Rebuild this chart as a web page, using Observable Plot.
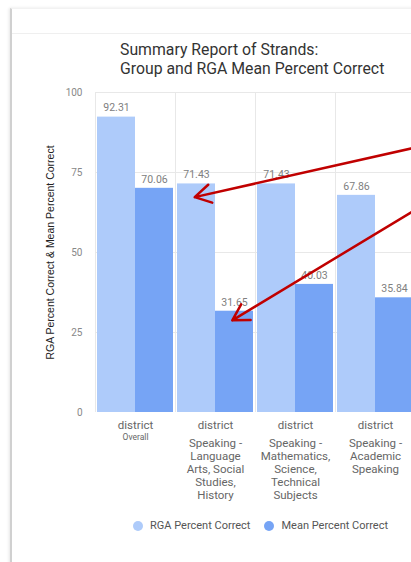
<!DOCTYPE html>
<html>
<head>
<meta charset="utf-8">
<script src="https://cdn.jsdelivr.net/npm/d3@7"></script>
<script src="https://cdn.jsdelivr.net/npm/@observablehq/plot@0.6"></script>
<style>
html, body { margin: 0; padding: 0; width: 411px; height: 562px; overflow: hidden; background: #fff; font-family: Roboto, "Noto Sans", sans-serif; }
#card { position: absolute; left: 10px; top: 8px; width: 430px; height: 600px; border-left: 2px solid #d0d0d0; border-top: 1px solid #f2f2f2; box-shadow: -1px 0 3px rgba(0,0,0,0.10); }
#sep { position: absolute; left: 12px; top: 33px; width: 400px; height: 1px; background: #efefef; }
#title { position: absolute; left: 120px; top: 40px; font-size: 15.8px; line-height: 19px; color: #333; white-space: nowrap; }
#chart { position: absolute; left: 0; top: 80px; width: 435px; }
#legend { position: absolute; left: 133px; top: 519px; display: flex; align-items: center; font-size: 11px; color: #555; white-space: nowrap; }
.item { display: flex; align-items: center; margin-right: 14px; }
.dot { width: 10px; height: 10px; border-radius: 50%; margin-right: 7px; }
</style>
</head>
<body>
<div id="card"></div>
<div id="sep"></div>
<div id="title">Summary Report of Strands:<br>Group and RGA Mean Percent Correct</div>
<div id="chart"></div>
<div id="legend"></div>
<script>
const categories = ["Overall", "Speaking - Language Arts, Social Studies, History", "Speaking - Mathematics, Science, Technical Subjects", "Speaking - Academic Speaking"];
const groupLabels = ["district", "district", "district", "district"];
const subLabels = ["Overall", "Speaking -\nLanguage\nArts, Social\nStudies,\nHistory", "Speaking -\nMathematics,\nScience,\nTechnical\nSubjects", "Speaking -\nAcademic\nSpeaking"];
const series = ["RGA Percent Correct", "Mean Percent Correct"];
const rgaValues = [92.31, 71.43, 71.43, 67.86];
const meanValues = [70.06, 31.65, 40.03, 35.84];
const yTicks = [0, 25, 50, 75, 100];
const colors = ["#aecbfa", "#76a4f5"];
const yLabel = "RGA Percent Correct & Mean Percent Correct";
// annotation arrows (data coordinates: group index position, percent)
const arrowFromX = [4.3, 4.3];
const arrowFromY = [84.5, 67.9];
const arrowToX = [1.24, 1.71];
const arrowToY = [67.3, 28.8];

const inset = 0.025, bw = 0.475;
const rows = [];
categories.forEach((c, i) => {
  [rgaValues, meanValues].forEach((vals, s) => {
    rows.push({i, s, series: series[s], value: vals[i]});
  });
});
const arrows = arrowFromX.map((x, k) => ({x1: x, y1: arrowFromY[k], x2: arrowToX[k], y2: arrowToY[k]}));
const groupIdx = categories.map((c, i) => i);

const chart = Plot.plot({
  width: 435,
  height: 422,
  marginLeft: 95,
  marginRight: 20,
  marginTop: 12,
  marginBottom: 90,
  style: {fontFamily: "Roboto, 'Noto Sans', sans-serif", maxWidth: "none", background: "transparent"},
  x: {domain: [0, categories.length], axis: null},
  y: {domain: [0, 100], axis: null},
  color: {domain: series, range: colors},
  marks: [
    Plot.ruleY([25, 50, 75, 100], {stroke: "#e8e8e8", strokeWidth: 1}),
    Plot.ruleX([...groupIdx, categories.length], {y1: 0, y2: 100, stroke: "#e8e8e8", strokeWidth: 1}),
    Plot.rectY(rows, {x1: d => d.i + inset + d.s * bw, x2: d => d.i + inset + (d.s + 1) * bw, y: "value", fill: "series"}),
    Plot.text(rows, {x: d => d.i + inset + (d.s + 0.5) * bw, y: "value", text: d => d.value.toFixed(2), dy: -9, fill: "#808080", fontSize: 10.5}),
    Plot.axisY({ticks: yTicks, tickSize: 0, tickPadding: 13, fontSize: 10, fill: "#888", label: null}),
    Plot.text([yLabel], {frameAnchor: "left", textAnchor: "middle", rotate: -90, dx: -45, fill: "#222", fontSize: 10.5, fontFamily: "'Liberation Sans', Arial, sans-serif"}),
    Plot.axisX({ticks: groupIdx.map(i => i + 0.5), tickFormat: d => groupLabels[Math.floor(d)], tickSize: 0, tickPadding: 8, fontSize: 11.5, fill: "#666", label: null}),
    Plot.axisX({ticks: [0.5], tickFormat: d => subLabels[Math.floor(d)], tickSize: 0, tickPadding: 21, fontSize: 8.5, fill: "#666", label: null}),
    Plot.axisX({ticks: [1.5, 2.5, 3.5], tickFormat: d => subLabels[Math.floor(d)], tickSize: 0, tickPadding: 25, fontSize: 11.5, lineHeight: 1.13, fill: "#666", label: null}),
    Plot.arrow(arrows, {x1: "x1", y1: "y1", x2: "x2", y2: "y2", stroke: "#c00000", strokeWidth: 2.5, headLength: 11})
  ]
});
document.getElementById("chart").appendChild(chart);

const legend = document.getElementById("legend");
series.forEach((s, k) => {
  const item = document.createElement("div");
  item.className = "item";
  const dot = document.createElement("span");
  dot.className = "dot";
  dot.style.background = colors[k];
  const lab = document.createElement("span");
  lab.textContent = s;
  item.appendChild(dot);
  item.appendChild(lab);
  legend.appendChild(item);
});
</script>
</body>
</html>
